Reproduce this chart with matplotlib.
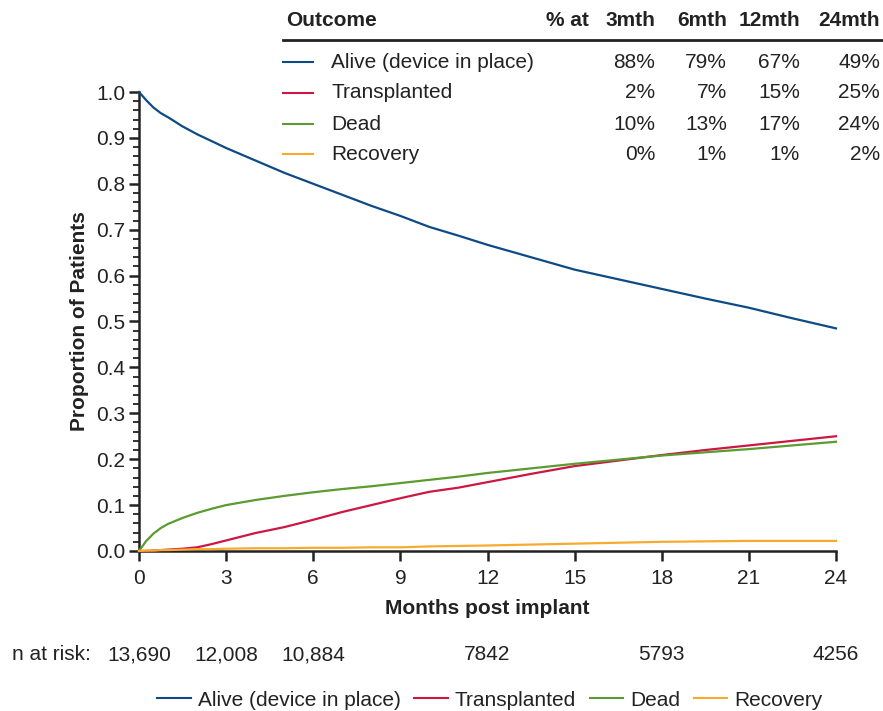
import numpy as np
import matplotlib
matplotlib.use("Agg")
import matplotlib.pyplot as plt
from matplotlib.lines import Line2D
from matplotlib.ticker import MultipleLocator

plt.rcParams['font.family'] = ['Liberation Sans', 'DejaVu Sans']

# cumulative incidence of competing outcomes after implant
months = [0, 0.25, 0.5, 0.75, 1, 1.5, 2, 2.5, 3, 4, 5, 6, 7, 8, 9, 10, 11, 12, 13.5, 15, 16.5, 18,
          19.5, 21, 22.5, 24]
alive = [1.0, 0.982, 0.966, 0.954, 0.945, 0.925, 0.908, 0.893, 0.878, 0.851, 0.824, 0.800, 0.776,
         0.752, 0.730, 0.706, 0.687, 0.667, 0.640, 0.613, 0.592, 0.571, 0.550, 0.530, 0.507, 0.485]
transplanted = [0.0, 0.0, 0.001, 0.002, 0.003, 0.005, 0.008, 0.015, 0.023, 0.039, 0.052, 0.068, 0.085,
                0.100, 0.115, 0.129, 0.138, 0.150, 0.168, 0.185, 0.197, 0.209, 0.220, 0.230, 0.240, 0.250]
dead = [0.0, 0.022, 0.038, 0.050, 0.059, 0.072, 0.083, 0.092, 0.100, 0.111, 0.120, 0.128, 0.135,
        0.141, 0.148, 0.155, 0.162, 0.170, 0.180, 0.190, 0.199, 0.208, 0.215, 0.222, 0.230, 0.238]
recovery = [0.0, 0.001, 0.001, 0.002, 0.002, 0.003, 0.004, 0.004, 0.005, 0.006, 0.006, 0.007, 0.007,
            0.008, 0.008, 0.010, 0.011, 0.012, 0.014, 0.016, 0.018, 0.020, 0.021, 0.022, 0.022, 0.022]

outcomes = ['Alive (device in place)', 'Transplanted', 'Dead', 'Recovery']
colors = ['#0d4a86', '#cc1744', '#5b9b32', '#f7ab2e']
pct_cols = ['3mth', '6mth', '12mth', '24mth']
pct_table = [['88%', '79%', '67%', '49%'],
             ['2%', '7%', '15%', '25%'],
             ['10%', '13%', '17%', '24%'],
             ['0%', '1%', '1%', '2%']]
risk_months = [0, 3, 6, 12, 18, 24]
n_at_risk = ['13,690', '12,008', '10,884', '7842', '5793', '4256']

W, H = 883, 711
FS = 15
INK = '#222222'
fig = plt.figure(figsize=(W / 100, H / 100), dpi=100)
ax = fig.add_axes([139 / W, 1 - 551 / H, (836 - 139) / W, (551 - 92) / H])


def px(x, y):
    return x / W, 1 - y / H


for series, c in zip([alive, transplanted, dead, recovery], colors):
    ax.plot(months, series, color=c, lw=1.6, clip_on=False, zorder=3)

ax.set_xlim(0, 24)
ax.set_ylim(0, 1.0)
ax.xaxis.set_major_locator(MultipleLocator(3))
ax.yaxis.set_major_locator(MultipleLocator(0.1))
ax.yaxis.set_minor_locator(MultipleLocator(0.02))
ax.yaxis.set_major_formatter(lambda v, p: f'{v:.1f}')
for s in ['top', 'right']:
    ax.spines[s].set_visible(False)
for s in ['left', 'bottom']:
    ax.spines[s].set_linewidth(1.8)
    ax.spines[s].set_color(INK)
ax.tick_params(which='major', length=7, width=1.8, labelsize=FS, color=INK, labelcolor=INK)
ax.tick_params(which='minor', length=4, width=1.3, color=INK)
ax.tick_params(axis='y', pad=3)
ax.tick_params(axis='x', pad=6)
ax.set_xlabel('Months post implant', fontsize=FS, fontweight='bold', color=INK, labelpad=8)
ax.set_ylabel('Proportion of Patients', fontsize=FS, fontweight='bold', color=INK, labelpad=5)

# summary table in the upper right
col_right = [589, 655, 727, 800, 880]
fig.text(*px(286, 20), 'Outcome', fontsize=FS, fontweight='bold', va='center', ha='left', color=INK)
for x, lab in zip(col_right, ['% at'] + pct_cols):
    fig.text(*px(x, 20), lab, fontsize=FS, fontweight='bold', va='center', ha='right', color=INK)
fig.add_artist(Line2D([283 / W, 1.0], [1 - 40 / H] * 2, color=INK, lw=2))
row_y = [62, 93, 124, 154]
for y, name, c, vals in zip(row_y, outcomes, colors, pct_table):
    fig.add_artist(Line2D([283 / W, 313 / W], [1 - y / H] * 2, color=c, lw=1.5))
    fig.text(*px(331, y), name, fontsize=FS, va='center', ha='left', color=INK)
    for x, v in zip(col_right[1:], vals):
        fig.text(*px(x, y), v, fontsize=FS, va='center', ha='right', color=INK)

# numbers at risk under the x axis
fig.text(*px(12, 655), 'n at risk:', fontsize=FS, va='center', ha='left', color=INK)
for m, n in zip(risk_months, n_at_risk):
    x = ax.transData.transform((m, 0))[0]
    fig.text(x / W, 1 - 655 / H, n, fontsize=FS, va='center', ha='center', color=INK)

handles = [Line2D([], [], color=c, lw=1.5) for c in colors]
fig.legend(handles, outcomes, loc='center', bbox_to_anchor=(490 / W, 1 - 700 / H), ncol=4,
           frameon=False, fontsize=FS, handlelength=1.6, handletextpad=0.35, columnspacing=0.65,
           labelcolor=INK)

fig.savefig('out.png', dpi=100)
